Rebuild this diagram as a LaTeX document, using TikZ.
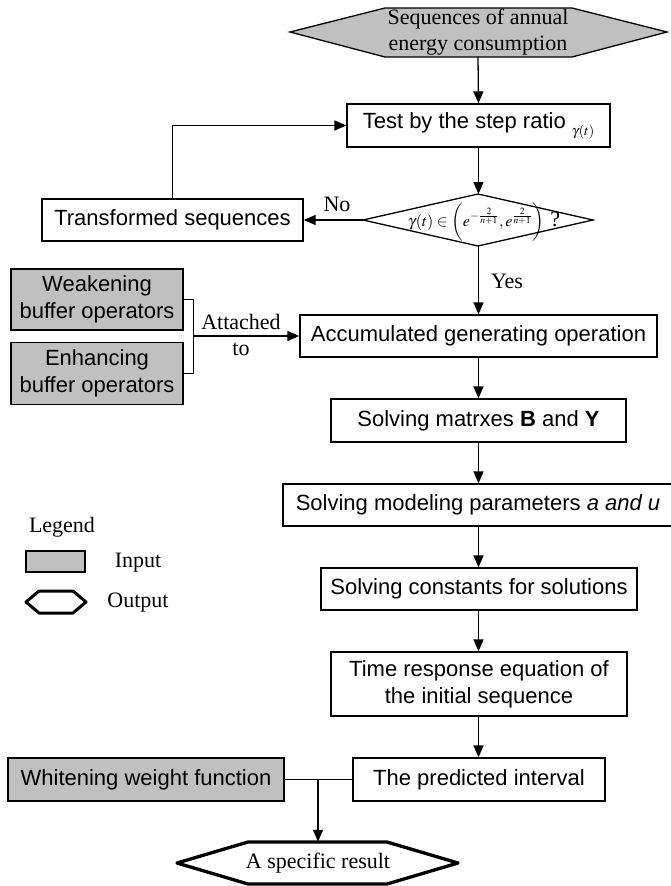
\documentclass[tikz,border=0pt]{standalone}
\usepackage{mathptmx}
\usepackage{fontspec}
\setmainfont{Liberation Serif}
\setsansfont{Liberation Sans}
\usetikzlibrary{arrows.meta}
\definecolor{inputgray}{RGB}{192,192,192}
\tikzset{
  box/.style={draw, line width=1.3pt, font=\sffamily\fontsize{22}{27}\selectfont, align=center, inner sep=0pt},
  inbox/.style={box, fill=inputgray},
  lbl/.style={font=\fontsize{22}{26}\selectfont, align=center, inner sep=0pt},
  flow/.style={line width=1.3pt, -{Triangle[length=12pt,width=10pt]}},
  link/.style={line width=1.3pt},
}
\begin{document}
\begin{tikzpicture}[x=1pt,y=-1pt]
\useasboundingbox (0,0) rectangle (670,886);
% input and output hexagons
\draw[line width=1.3pt, fill=inputgray] (290,32) -- (385,8) -- (572,8) -- (667,32) -- (572,57) -- (385,57) -- cycle;
\node[lbl, minimum width=377pt, minimum height=49pt] (seq) at (478,32) {Sequences of annual\\energy consumption};
\draw[line width=3.3pt, line join=round] (177,863) -- (248,842) -- (387,842) -- (458,863) -- (387,884) -- (248,884) -- cycle;
\node[lbl, minimum width=281pt, minimum height=42pt] (result) at (318,863) {A specific result};
% step ratio check
\draw[line width=1.3pt] (363,220) -- (478,194) -- (593,220) -- (478,246) -- cycle;
\node[lbl, minimum width=230pt, minimum height=52pt] (check) at (484,222)
  {{\fontsize{16}{18}\selectfont$\gamma(t)\in\biggl(e^{-\frac{2}{n+1}},e^{\frac{2}{n+1}}\biggr)$}\;{\fontsize{22}{22}\selectfont ?}};
\node[box, minimum width=263pt, minimum height=43pt] (ratio) at (478.5,125.5)
  {Test by the step ratio \raisebox{-7pt}{\fontsize{14}{14}\selectfont$\gamma(t)$}};
\node[box, minimum width=261pt, minimum height=42pt] (trans) at (172.5,220) {Transformed sequences};
\node[inbox, minimum width=172pt, minimum height=61pt] (weak) at (97,299.5) {Weakening\\buffer operators};
\node[inbox, minimum width=172pt, minimum height=62pt] (enh) at (97,373.5) {Enhancing\\buffer operators};
\node[box, minimum width=357pt, minimum height=42pt] (accum) at (478.5,336) {Accumulated generating operation};
\node[box, minimum width=295pt, minimum height=43pt] (mats) at (478.5,420.5) {Solving matrxes \textbf{B} and \textbf{Y}};
\node[box, minimum width=390pt, minimum height=42pt] (params) at (478,505) {Solving modeling parameters \textit{a and u}};
\node[box, minimum width=316pt, minimum height=42pt] (consts) at (479,589) {Solving constants for solutions};
\node[box, minimum width=296pt, minimum height=64pt] (timeresp) at (479,684) {Time response equation of\\the initial sequence};
\node[box, minimum width=252pt, minimum height=43pt] (pred) at (479,779.5) {The predicted interval};
\node[inbox, minimum width=276pt, minimum height=43pt] (white) at (146,779.5) {Whitening weight function};
% connectors
\draw[flow] (seq.south) -- (ratio.north);
\draw[flow] (ratio.south) -- (ratio.south |- 0,194);
\draw[flow] (363,220) -- (trans.east);
\draw[flow] (trans.north) |- (ratio.west);
\draw[flow] (ratio.south |- 0,246) -- (accum.north -| ratio.south);
\draw[link] (weak.east) -- ++(10,0) |- (enh.east);
\coordinate (join) at (193,336);
\draw[flow] (join) -- (accum.west);
\draw[flow] (mats.north |- accum.south) -- (mats.north);
\draw[flow] (mats.south) -- (params.north -| mats.south);
\draw[flow] (params.south -| mats.south) -- (consts.north -| mats.south);
\draw[flow] (consts.south -| mats.south) -- (timeresp.north -| mats.south);
\draw[flow] (timeresp.south -| mats.south) -- (pred.north -| mats.south);
\draw[link] (white.east) -- (pred.west);
\coordinate (split) at (318,779.5);
\draw[flow] (split) -- (result.north);
\node[lbl] (no) at (337,204) {No};
\node[lbl] (yes) at (507,281) {Yes};
\node[lbl] (att) at (241,322) {Attached};
\node[lbl] (to) at (241,349) {to};
% legend
\node[lbl] (legend) at (62,527) {Legend};
\draw[line width=1.3pt, fill=inputgray] (26,551) rectangle (85,572);
\node[lbl] (inlbl) at (138,563) {Input};
\draw[line width=3pt, line join=round] (26,602) -- (39,591) -- (73,591) -- (86,602) -- (73,613) -- (39,613) -- cycle;
\node[lbl] (outlbl) at (138,603) {Output};
\end{tikzpicture}
\end{document}
